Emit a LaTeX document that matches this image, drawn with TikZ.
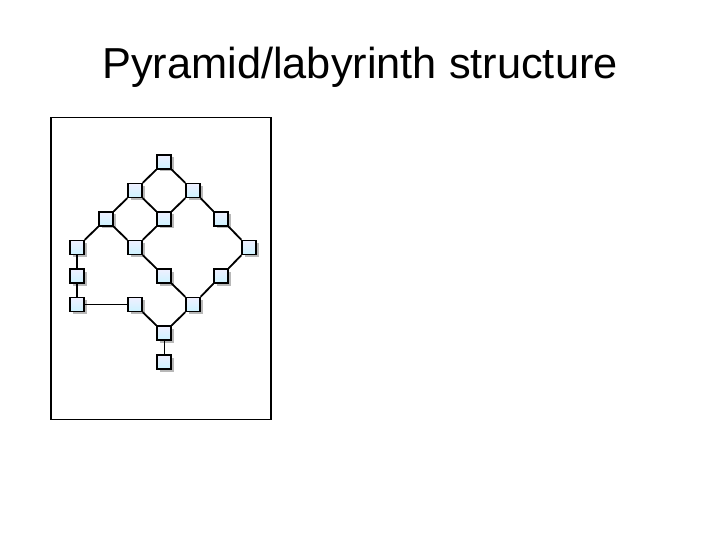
\documentclass[tikz,border=0pt]{standalone}
\usepackage{fontspec}
\setmainfont{Liberation Sans}
\usetikzlibrary{shadows}
\tikzset{
  box/.style={rectangle, draw=black, line width=1.6bp, minimum size=14bp, inner sep=0pt,
    top color=blue!6!white, bottom color=blue!25!cyan!20!white,
    drop shadow={shadow xshift=2.5bp, shadow yshift=-2.5bp, fill=black!35, opacity=0.8}},
  link/.style={line width=1.8bp},
  thinlink/.style={line width=0.9bp},
  frame/.style={draw=black, line width=1.3bp}
}
\begin{document}
\begin{tikzpicture}[x=1bp,y=-1bp]
\useasboundingbox (0,0) rectangle (720,540);
\node[font=\fontsize{43.5}{48}\selectfont, anchor=base] (title) at (360,79) {Pyramid/labyrinth structure};
\draw[frame] (51,117.5) rectangle (271,419.5);
% nodes
\node[box] (a) at (164,162) {};
\node[box] (b1) at (135,190.5) {};
\node[box] (b2) at (193,190.5) {};
\node[box] (c1) at (106,219) {};
\node[box] (c2) at (164,219) {};
\node[box] (c3) at (221,219) {};
\node[box] (d1) at (77,247.5) {};
\node[box] (d2) at (135,247.5) {};
\node[box] (d3) at (249,247.5) {};
\node[box] (e1) at (77,276) {};
\node[box] (e2) at (164,276) {};
\node[box] (e3) at (221,276) {};
\node[box] (f1) at (77,304.5) {};
\node[box] (f2) at (135,304.5) {};
\node[box] (f3) at (193,304.5) {};
\node[box] (g1) at (164,333) {};
\node[box] (h1) at (164,362) {};
% edges
\draw[link] (a) -- (b1);
\draw[link] (a) -- (b2);
\draw[link] (b1) -- (c1);
\draw[link] (b1) -- (c2);
\draw[link] (b2) -- (c2);
\draw[link] (b2) -- (c3);
\draw[link] (c1) -- (d1);
\draw[link] (c1) -- (d2);
\draw[link] (c2) -- (d2);
\draw[link] (c3) -- (d3);
\draw[link] (d1) -- (e1);
\draw[link] (d2) -- (e2);
\draw[link] (d3) -- (e3);
\draw[link] (e1) -- (f1);
\draw[link] (e2) -- (f3);
\draw[link] (e3) -- (f3);
\draw[thinlink] (f1) -- (f2);
\draw[link] (f2) -- (g1);
\draw[link] (f3) -- (g1);
\draw[thinlink] (g1) -- (h1);
\end{tikzpicture}
\end{document}
